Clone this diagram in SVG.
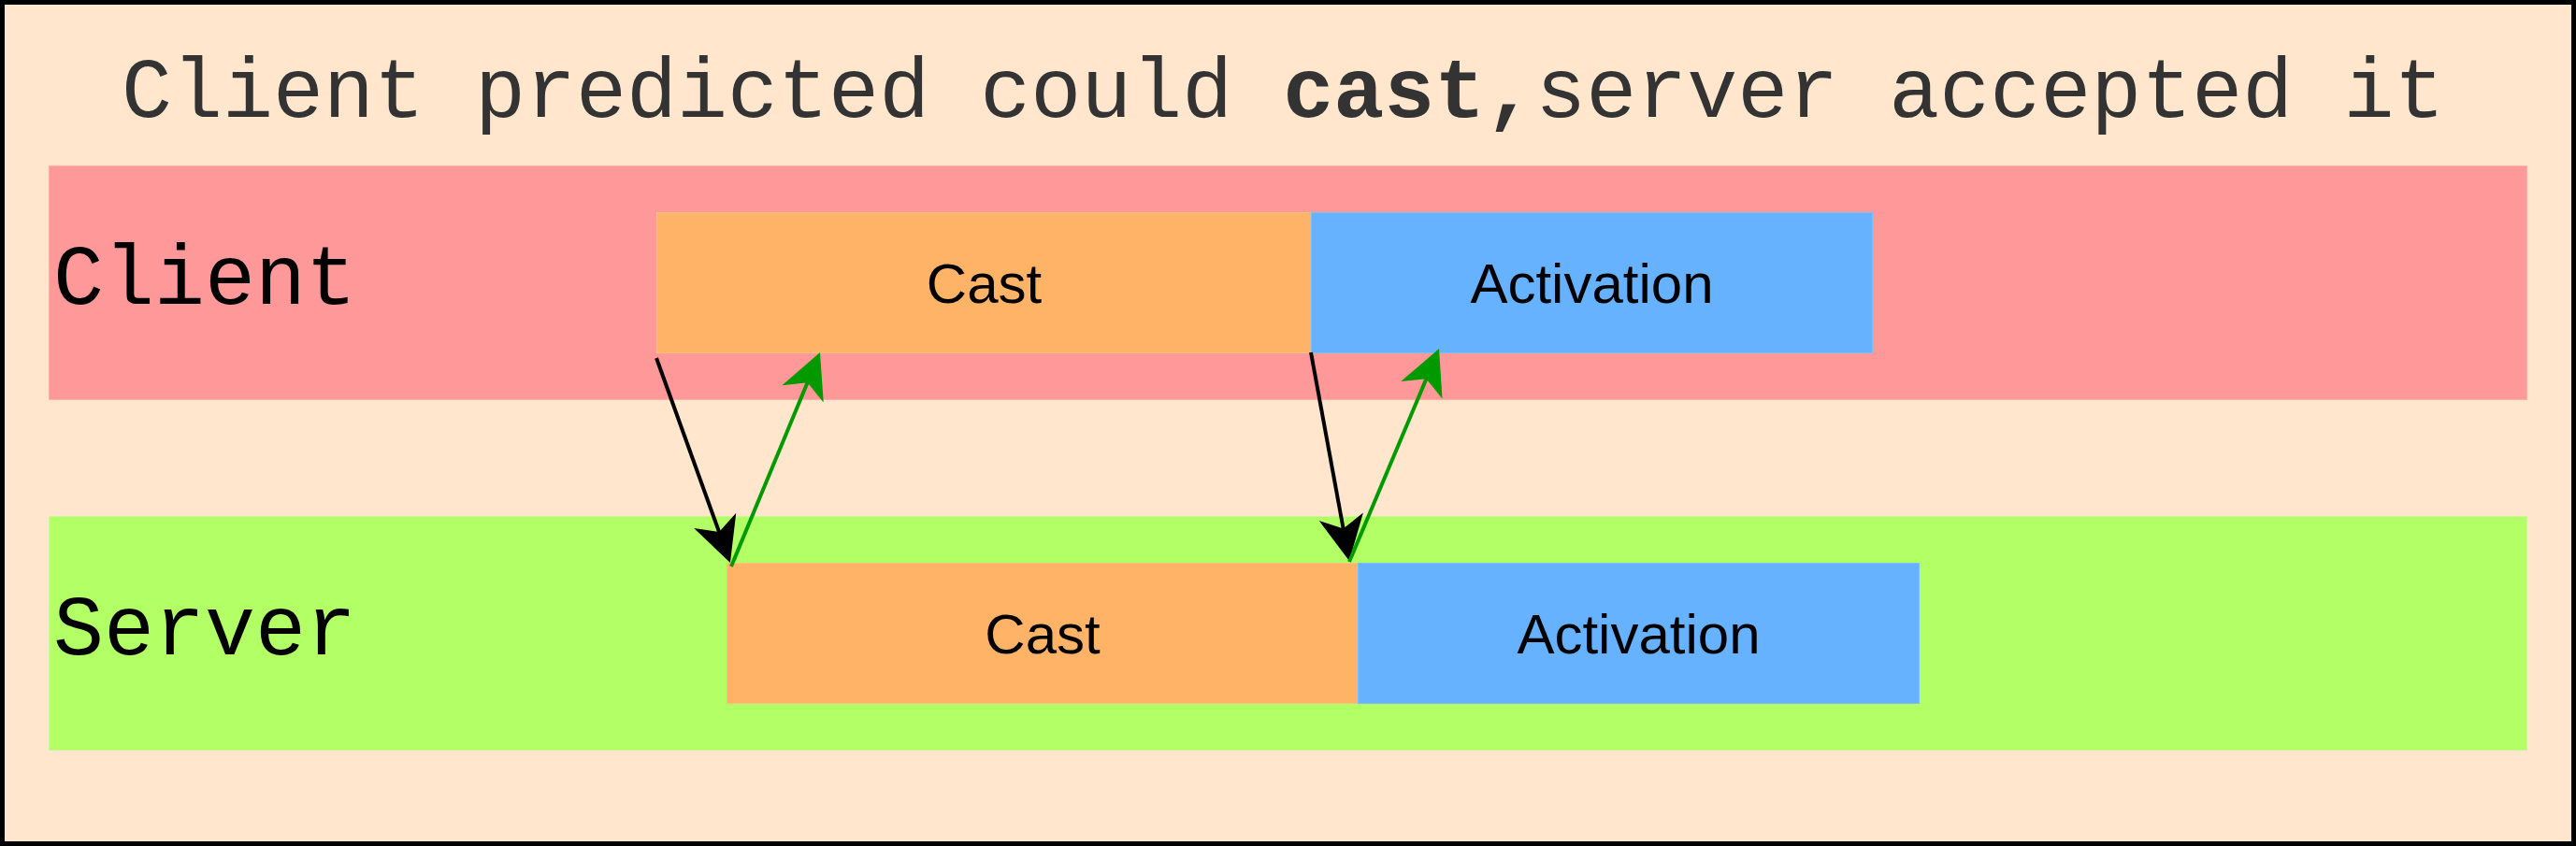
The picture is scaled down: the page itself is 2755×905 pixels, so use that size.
<svg xmlns="http://www.w3.org/2000/svg" width="2755" height="905" viewBox="0 0 2755 905">
  <style>
    .mono { font-family: "Courier New", "Liberation Mono", "DejaVu Sans Mono", monospace; font-size: 90px; }
    .title { fill: #333333; }
    .lane-label { fill: #000000; }
    .box-label { font-family: "Liberation Sans", Arial, sans-serif; font-size: 60px; fill: #000000; text-anchor: middle; }
    .client-band { fill: #FF9999; stroke: #FFB0A8; stroke-width: 1; }
    .server-band { fill: #B3FF66; stroke: #CCF5A0; stroke-width: 1; }
    .cast { fill: #FFB366; stroke: #FFC080; stroke-width: 1; }
    .act { fill: #66B2FF; stroke: #7CC0F8; stroke-width: 1; }
    .req { fill: none; stroke: #000000; stroke-width: 4; }
    .resp { fill: none; stroke: #009900; stroke-width: 4; }
  </style>
  <defs>
    <marker id="arrBlack" markerUnits="userSpaceOnUse" markerWidth="54" markerHeight="54" viewBox="0 -27 54 54" refX="16" refY="0" orient="auto">
      <path d="M0,-24 L48,0 L0,24 L13,0 Z" fill="#000000"/>
    </marker>
    <marker id="arrGreen" markerUnits="userSpaceOnUse" markerWidth="54" markerHeight="54" viewBox="0 -27 54 54" refX="16" refY="0" orient="auto">
      <path d="M0,-24 L48,0 L0,24 L13,0 Z" fill="#009900"/>
    </marker>
  </defs>

  <rect id="frame" x="2.5" y="2.5" width="2750" height="900" fill="#FFE6CC" stroke="#000000" stroke-width="5"/>

  <g id="title">
    <text class="mono title" x="130" y="125" xml:space="preserve">Client predicted could <tspan font-weight="bold">cast,</tspan>server accepted it</text>
  </g>

  <g id="client-lane">
    <rect class="client-band" x="52.5" y="177.5" width="2650" height="250"/>
    <text class="mono lane-label" x="57" y="325">Client</text>
  </g>

  <g id="server-lane">
    <rect class="server-band" x="52.5" y="552.5" width="2650" height="250"/>
    <text class="mono lane-label" x="57" y="700">Server</text>
  </g>

  <g id="client-cast">
    <rect class="cast" x="702.5" y="227.5" width="700" height="150"/>
    <text class="box-label" x="1052.5" y="324">Cast</text>
  </g>

  <g id="client-activation">
    <rect class="act" x="1402.5" y="227.5" width="600" height="150"/>
    <text class="box-label" x="1702.5" y="324">Activation</text>
  </g>

  <g id="server-cast">
    <rect class="cast" x="777.5" y="602.5" width="675" height="150"/>
    <text class="box-label" x="1115" y="699">Cast</text>
  </g>

  <g id="server-activation">
    <rect class="act" x="1452.5" y="602.5" width="600" height="150"/>
    <text class="box-label" x="1752.5" y="699">Activation</text>
  </g>

  <g id="connectors">
    <path class="req" d="M702,383 L770.1,571.9" marker-end="url(#arrBlack)"/>
    <path class="resp" d="M782,606 L864.7,406.6" marker-end="url(#arrGreen)"/>
    <path class="req" d="M1402,377 L1437.2,568.5" marker-end="url(#arrBlack)"/>
    <path class="resp" d="M1443,601 L1526.6,402.5" marker-end="url(#arrGreen)"/>
  </g>
</svg>
